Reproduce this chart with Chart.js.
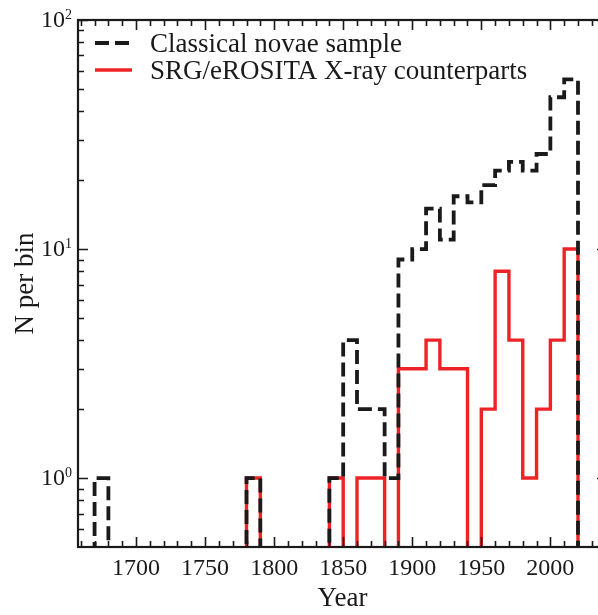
<!DOCTYPE html>
<html>
<head>
<meta charset="utf-8">
<script src="https://cdn.jsdelivr.net/npm/chart.js@4/dist/chart.umd.min.js"></script>
<style>
  html, body { margin: 0; padding: 0; background: #fff; overflow: hidden; }
  #wrap { width: 612px; height: 615px; }
</style>
</head>
<body>
<div id="wrap"><canvas id="c" width="612" height="615"></canvas></div>
<script>
// ---- data (10-year bins, start year of each bin) ----
const binStarts = [1670, 1680, 1690, 1700, 1710, 1720, 1730, 1740, 1750, 1760,
                   1770, 1780, 1790, 1800, 1810, 1820, 1830, 1840, 1850, 1860,
                   1870, 1880, 1890, 1900, 1910, 1920, 1930, 1940, 1950, 1960,
                   1970, 1980, 1990, 2000, 2010];
const binEnd = 2020;
const novaeCounts = [1, 0, 0, 0, 0, 0, 0, 0, 0, 0,
                     0, 1, 0, 0, 0, 0, 0, 1, 4, 2,
                     2, 1, 9, 10, 15, 11, 17, 16, 19, 22,
                     24, 22, 26, 46, 55];
const xrayCounts  = [0, 0, 0, 0, 0, 0, 0, 0, 0, 0,
                     0, 1, 0, 0, 0, 0, 0, 1, 0, 1,
                     1, 0, 3, 3, 4, 3, 3, 0, 2, 8,
                     4, 1, 2, 4, 10];
const seriesLabels = ['Classical novae sample', 'SRG/eROSITA X-ray counterparts'];
const xTickValues = [1700, 1750, 1800, 1850, 1900, 1950, 2000];
const xTickLabels = ['1700', '1750', '1800', '1850', '1900', '1950', '2000'];
const yTickValues = [1, 10, 100];
const yTickExponents = ['0', '1', '2'];

// ---- styling / layout ----
const X_MIN = 1658, X_MAX = 2041, Y_MIN = 0.5, Y_MAX = 100;
const FLOOR = 0.05; // zero counts drawn below the axis (clipped), like a log-scale step histogram
const INK = '#1a1a1a';
const RED = '#ee2327';
const SERIF = "'Liberation Serif', 'DejaVu Serif', serif";

function stepPoints(counts) {
  const pts = [{x: binStarts[0], y: FLOOR}];
  counts.forEach((c, i) => pts.push({x: binStarts[i], y: c > 0 ? c : FLOOR}));
  pts.push({x: binEnd, y: FLOOR});
  return pts;
}

const frameAndTicks = {
  id: 'frameAndTicks',
  afterDatasetsDraw(chart) {
    const {ctx, chartArea: a, scales: {x, y}} = chart;
    ctx.save();
    ctx.strokeStyle = INK;
    ctx.lineWidth = 1.6;
    ctx.beginPath();
    // x ticks (bottom & top), inward
    for (let v = 1660; v <= X_MAX; v += 10) {
      const px = Math.round(x.getPixelForValue(v)) + 0.5;
      const len = xTickValues.includes(v) ? 10 : 6;
      ctx.moveTo(px, a.bottom); ctx.lineTo(px, a.bottom - len);
      ctx.moveTo(px, a.top); ctx.lineTo(px, a.top + len);
    }
    // y ticks (left & right), inward
    const minorY = [];
    for (let d = 0.1; d <= 10; d *= 10) {
      for (let m = 2; m <= 9; m++) minorY.push(m * d);
    }
    minorY.filter(v => v > Y_MIN && v < Y_MAX).forEach(v => {
      const py = Math.round(y.getPixelForValue(v)) + 0.5;
      ctx.moveTo(a.left, py); ctx.lineTo(a.left + 6, py);
      ctx.moveTo(a.right, py); ctx.lineTo(a.right - 6, py);
    });
    yTickValues.forEach(v => {
      const py = Math.round(y.getPixelForValue(v)) + 0.5;
      ctx.moveTo(a.left, py); ctx.lineTo(a.left + 10, py);
      ctx.moveTo(a.right, py); ctx.lineTo(a.right - 10, py);
    });
    ctx.stroke();
    // frame
    ctx.lineWidth = 2.2;
    ctx.strokeRect(a.left, a.top, a.right - a.left, a.bottom - a.top);

    // y tick labels: 10^n
    ctx.fillStyle = INK;
    ctx.textBaseline = 'middle';
    yTickValues.forEach((v, i) => {
      const py = y.getPixelForValue(v);
      ctx.font = '14px ' + SERIF;
      ctx.textAlign = 'right';
      const expW = ctx.measureText(yTickExponents[i]).width;
      const right = a.left - 6;
      ctx.fillText(yTickExponents[i], right, py - 5);
      ctx.font = '24px ' + SERIF;
      ctx.fillText('10', right - expW, py + 1);
    });

    // legend
    const ds = chart.data.datasets;
    const rows = [{y: 43, base: 52}, {y: 70, base: 79}];
    ds.forEach((d, i) => {
      ctx.beginPath();
      ctx.strokeStyle = d.borderColor;
      ctx.lineWidth = d.borderWidth;
      ctx.setLineDash(d.borderDash || []);
      ctx.moveTo(a.left + 17, rows[i].y);
      ctx.lineTo(a.left + 54, rows[i].y);
      ctx.stroke();
      ctx.setLineDash([]);
      ctx.font = '27px ' + SERIF;
      ctx.textAlign = 'left';
      ctx.textBaseline = 'alphabetic';
      ctx.fillStyle = INK;
      ctx.fillText(d.label, a.left + 72, rows[i].base);
    });
    ctx.restore();
  }
};

new Chart(document.getElementById('c'), {
  type: 'line',
  data: {
    datasets: [
      {
        label: seriesLabels[0],
        data: stepPoints(novaeCounts),
        stepped: 'before',
        borderColor: INK,
        borderWidth: 3.8,
        borderDash: [14, 6],
        pointRadius: 0,
        fill: false,
        clip: 0
      },
      {
        label: seriesLabels[1],
        data: stepPoints(xrayCounts),
        stepped: 'before',
        borderColor: RED,
        borderWidth: 3.4,
        pointRadius: 0,
        fill: false,
        clip: 0
      }
    ]
  },
  options: {
    responsive: false,
    animation: false,
    layout: { padding: { top: 20, right: 5, left: 0, bottom: 0 } },
    plugins: { legend: { display: false }, tooltip: { enabled: false } },
    scales: {
      x: {
        type: 'linear',
        min: X_MIN, max: X_MAX,
        grid: { display: false },
        border: { display: false },
        afterBuildTicks: s => { s.ticks = xTickValues.map(v => ({value: v})); },
        afterFit: s => { s.height = 68; },
        ticks: {
          padding: -1,
          maxRotation: 0,
          autoSkip: false,
          color: INK,
          font: { family: SERIF, size: 24 },
          callback: (v) => xTickLabels[xTickValues.indexOf(v)]
        },
        title: {
          display: true, text: 'Year', color: INK,
          font: { family: SERIF, size: 27 },
          padding: { top: 0, bottom: 0 }
        }
      },
      y: {
        type: 'logarithmic',
        min: Y_MIN, max: Y_MAX,
        grid: { display: false },
        border: { display: false },
        ticks: { display: false },
        afterFit: s => { s.width = 78; },
        title: {
          display: true, text: 'N per bin', color: INK,
          font: { family: SERIF, size: 27 },
          padding: { top: 10, bottom: 0 }
        }
      }
    }
  },
  plugins: [frameAndTicks]
});
</script>
</body>
</html>
